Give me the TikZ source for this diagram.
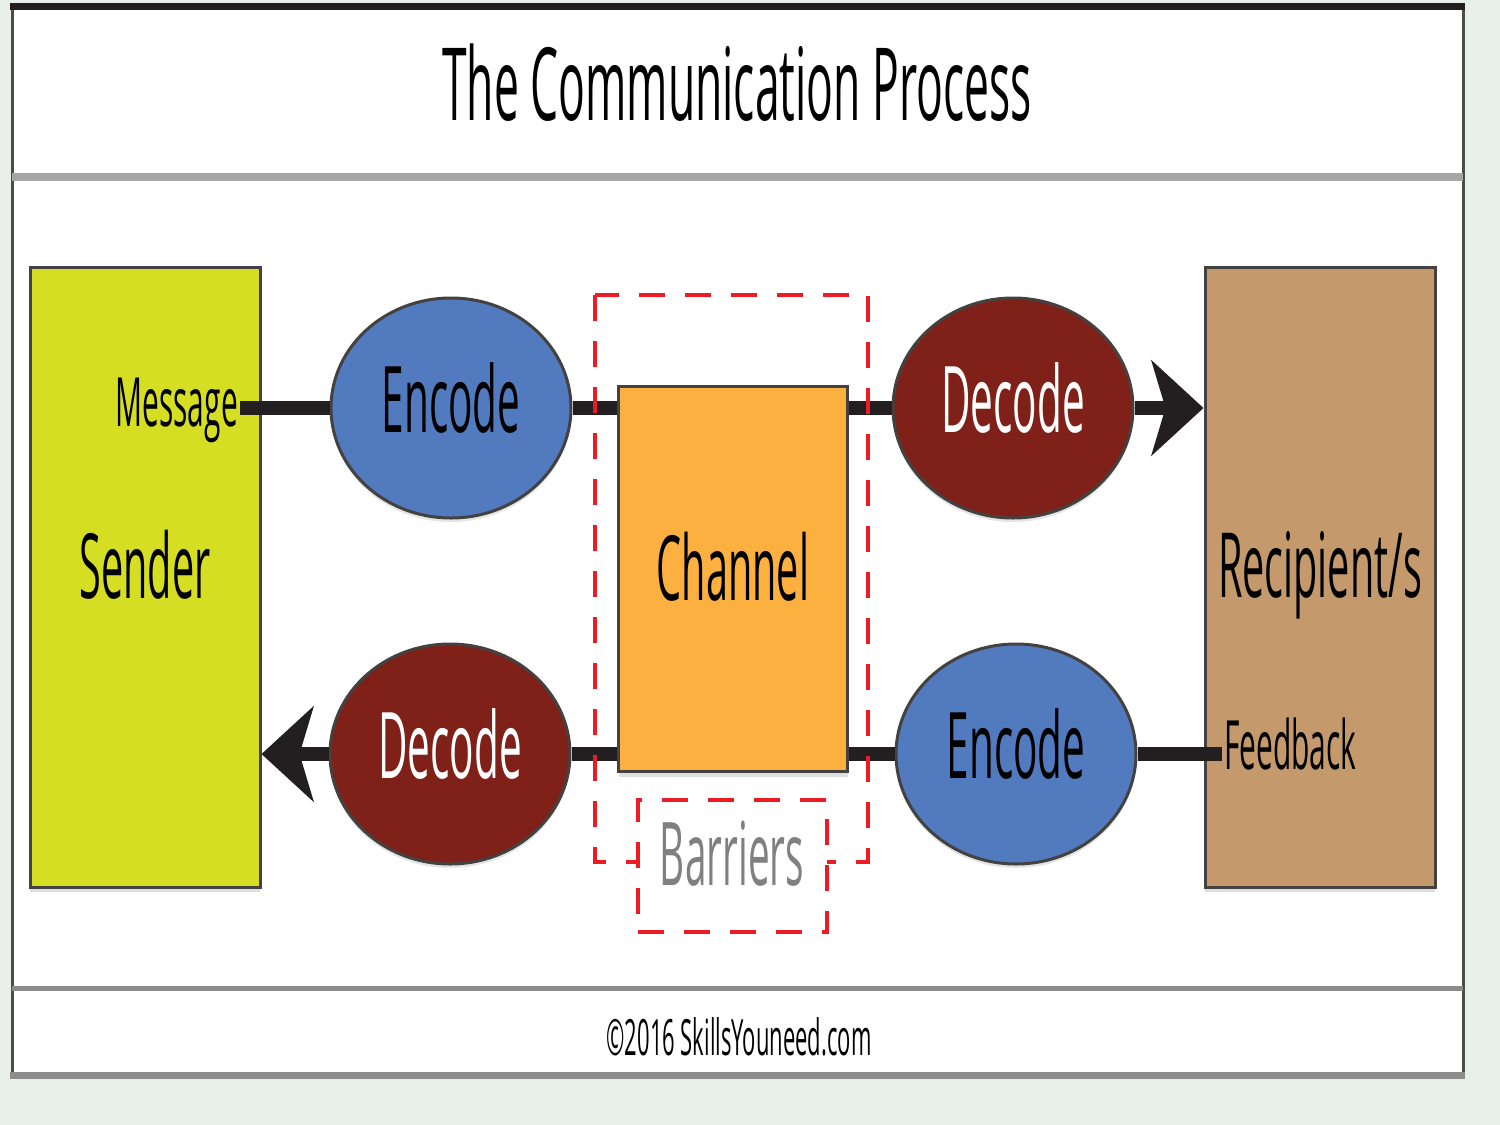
\documentclass[tikz,border=0pt]{standalone}
\usepackage{fontspec}
\setmainfont{Open Sans}[FakeStretch=0.44]
\usetikzlibrary{arrows.meta,positioning,shapes.geometric,shadows}
\definecolor{cpback}{HTML}{E9EFEA}
\definecolor{cpink}{HTML}{231F20}
\definecolor{cpsender}{HTML}{D6DE23}
\definecolor{cprecip}{HTML}{C49A6C}
\definecolor{cpchan}{HTML}{FBB040}
\definecolor{cpblue}{HTML}{527ABF}
\definecolor{cpred}{HTML}{7F2118}
\definecolor{cpdash}{HTML}{ED1C24}
\definecolor{cpgrey}{HTML}{808080}

\begin{document}
\begin{tikzpicture}[x=1pt,y=-1pt,
  box/.style={draw=cpink!85,line width=3pt,minimum width=230pt,inner sep=0pt,text depth=26pt,font=\fontsize{90}{90}\selectfont,drop shadow={shadow xshift=0pt,shadow yshift=-5pt,fill=black!25}},
  blob/.style={ellipse,draw=cpink!85,line width=3pt,minimum width=240pt,minimum height=220pt,inner sep=0pt,text depth=20pt,font=\fontsize{92}{92}\selectfont,drop shadow={shadow xshift=0pt,shadow yshift=-4pt,fill=black!20}},
  tag/.style={inner sep=2pt,font=\fontsize{68}{68}\selectfont},
  conn/.style={color=cpink,line width=14pt},
  arr/.style={conn,-{Stealth[length=52pt,width=95pt,inset=14pt]}},
  barrier/.style={draw=cpdash,line width=4pt,dash pattern=on 26pt off 20pt}]
\useasboundingbox (0,0) rectangle (1500,1125);
\fill[cpback] (0,0) rectangle (1500,1125);
\fill[white] (12,5) rectangle (1463,1078);
\draw[black!70,line width=3pt] (12,5) -- (12,1078) (1463,5) -- (1463,1078);
\draw[cpink,line width=7pt] (10,6) -- (1465,6);
\draw[black!35,line width=8pt] (12,177) -- (1463,177);
\draw[black!45,line width=5pt] (12,988) -- (1463,988);
\draw[black!45,line width=7pt] (10,1075) -- (1465,1075);

\node[font=\fontsize{101}{101}\selectfont] (title) at (737,83) {The Communication Process};
\node[font=\fontsize{50}{50}\selectfont] (credit) at (739,1037) {©2016 SkillsYouneed.com};

\node[box,fill=cpsender,minimum height=620pt] (sender) at (145,577) {Sender};
\node[box,fill=cprecip,minimum height=620pt] (recip) at (1320,577) {Recipient/s};
\node[box,fill=cpchan,minimum width=229pt,minimum height=385pt] (chan) at (733,579) {Channel};
\node[tag,anchor=east] (msg) at (240,410) {Message};
\node[tag,anchor=west] (fb) at (1222,744) {Feedback};

\node[blob,fill=cpblue] (enc1) at (451,408) {Encode};
\node[blob,fill=cpred,text=white] (dec1) at (1013,408) {Decode};
\node[blob,fill=cpred,text=white] (dec2) at (450,754) {Decode};
\node[blob,fill=cpblue] (enc2) at (1016,754) {Encode};

\draw[conn] (msg.east |- enc1) -- (enc1);
\draw[conn] (enc1) -- (chan.west |- enc1);
\draw[conn] (chan.east |- dec1) -- (dec1);
\draw[arr] (dec1) -- (recip.west |- dec1);
\draw[conn] (fb.west |- enc2) -- (enc2);
\draw[conn] (enc2) -- (chan.east |- enc2);
\draw[conn] (chan.west |- dec2) -- (dec2);
\draw[arr] (dec2) -- (sender.east |- dec2);

\draw[barrier] (595,295) rectangle (868,862);
\node[barrier,fill=white,minimum width=189pt,minimum height=132pt,inner sep=0pt,text=cpgrey,text depth=26pt,font=\fontsize{88}{88}\selectfont] (barr) at (732,866) {Barriers};
\end{tikzpicture}
\end{document}
